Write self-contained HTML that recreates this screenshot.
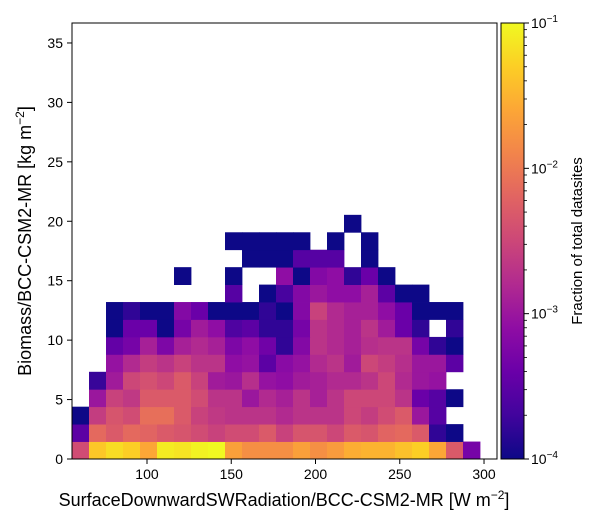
<!DOCTYPE html>
<html><head><meta charset="utf-8"><style>
body{margin:0;background:#fff;}
svg{display:block;font-family:"Liberation Sans","DejaVu Sans",sans-serif;}
</style></head><body>
<svg id="chart" width="600" height="525" viewBox="0 0 600 525">
<defs>
<linearGradient id="plasma" x1="0" y1="1" x2="0" y2="0">
<stop offset="0" stop-color="#0d0887"/><stop offset="0.1" stop-color="#41049d"/><stop offset="0.2" stop-color="#6a00a8"/><stop offset="0.3" stop-color="#8f0da4"/><stop offset="0.4" stop-color="#b12a90"/><stop offset="0.5" stop-color="#cc4778"/><stop offset="0.6" stop-color="#e16462"/><stop offset="0.7" stop-color="#f2844b"/><stop offset="0.8" stop-color="#fca636"/><stop offset="0.9" stop-color="#fcce25"/><stop offset="1" stop-color="#f0f921"/>
</linearGradient>
</defs>
<g id="cells"></g>
<rect x="72" y="23" width="425" height="436" fill="none" stroke="#000" stroke-width="1"/>
<g id="xticks"></g>
<g id="yticks"></g>
<text x="284" y="506" text-anchor="middle" font-size="18">SurfaceDownwardSWRadiation/BCC-CSM2-MR [W m<tspan dy="-7" font-size="12">−2</tspan><tspan dy="7">]</tspan></text>
<text transform="translate(31,241) rotate(-90)" text-anchor="middle" font-size="18">Biomass/BCC-CSM2-MR [kg m<tspan dy="-7" font-size="12">−2</tspan><tspan dy="7">]</tspan></text>
<rect x="501" y="23" width="23" height="436" fill="url(#plasma)" stroke="#000" stroke-width="1"/>
<g id="cbticks"></g>
<text transform="translate(582,241) rotate(-90)" text-anchor="middle" font-size="15">Fraction of total datasites</text>
</svg>
<script>
// log10(fraction) per bin; null = empty. rows from bottom (row0) upward, 25 columns each
const N = null;
const row0 = [-2.45,-1.35,-1.2,-1.3,-1.6,-1.1,-1.15,-1.05,-1.0,-1.65,-1.8,-1.8,-1.8,-1.65,-1.8,-1.7,-1.55,-1.5,-1.5,-1.4,-1.3,-1.6,-2.3,-3.3,N];
const row1 = [-3.5,-2.15,-2.3,-2.15,-2.2,-2.3,-2.35,-2.45,-2.55,-2.45,-2.45,-2.3,-2.55,-2.35,-2.35,-2.5,-2.3,-2.35,-2.2,-2.15,-2.3,-3.8,-4,N,N];
const row2 = [-4,-2.6,-2.35,-2.45,-2.1,-2.1,-2.3,-2.55,-2.65,-2.7,-2.7,-2.7,-2.8,-2.7,-2.7,-2.7,-2.5,-2.6,-2.45,-2.3,-3.0,-3.55,N,N,N];
const row3 = [N,-3.0,-2.55,-2.65,-2.3,-2.3,-2.3,-2.45,-2.7,-2.7,-3.0,-2.8,-2.9,-2.7,-2.9,-2.7,-2.5,-2.5,-2.5,-2.7,-3.4,-3.55,-4,N,N];
const row4 = [N,-3.75,-2.95,-2.5,-2.4,-2.5,-2.3,-2.55,-2.95,-3.0,-2.75,-3.05,-3.1,-2.95,-2.9,-2.8,-2.8,-2.7,-2.5,-2.8,-3.0,-3.05,N,N,N];
const row5 = [N,N,-3.05,-2.8,-2.6,-2.7,-2.55,-2.7,-2.7,-3.1,-3.05,-3.5,-3.15,-3.05,-2.8,-2.7,-2.95,-2.5,-2.6,-2.75,-3.0,-3.0,-3.5,N,N];
const row6 = [N,N,-3.45,-3.3,-2.9,-3.25,-2.9,-2.8,-2.9,-3.25,-3.1,-3.35,-3.8,-3.2,-2.7,-2.8,-2.9,-2.75,-2.7,-2.7,-3.3,-3.8,-4,N,N];
const row7 = [N,N,-4,-3.4,-3.4,-4,-3.3,-2.95,-3.1,-3.6,-3.5,-3.8,-3.8,-3.3,-2.7,-2.8,-2.9,-2.7,-2.95,-3.4,-3.8,N,-3.8,N,N];
const row8 = [N,N,-4,-3.8,-4,-4,-3.2,-3.4,-4,-4,-4,-3.8,-4,-3.2,-2.55,-2.8,-2.9,-2.9,-3.1,-3.4,-4,-4,-4,N,N];
const row9 = [N,N,N,N,N,N,N,N,N,-3.55,N,-4,-3.65,-3.2,-3.0,-3.1,-3.1,-2.9,-3.5,-4,-4,N,N,N,N];
const row10 = [N,N,N,N,N,N,-4,N,N,-4,N,N,-3.1,-4,-3.2,-3.1,-3.8,-3.4,-4,N,N,N,N,N,N];
const row11 = [N,N,N,N,N,N,N,N,N,N,-4,-4,-4,-3.55,-3.55,-3.55,N,-4,N,N,N,N,N,N,N];
const row12 = [N,N,N,N,N,N,N,N,N,-4,-4,-4,-4,-4,N,-4,N,-4,N,N,N,N,N,N,N];
const row13 = [N,N,N,N,N,N,N,N,N,N,N,N,N,N,N,N,-4,N,N,N,N,N,N,N,N];
const rows = [row0,row1,row2,row3,row4,row5,row6,row7,row8,row9,row10,row11,row12,row13];
const xTicks = [100,150,200,250,300];
const yTicks = [0,5,10,15,20,25,30,35];
const cbTicks = [-4,-3,-2,-1];
const xMin = 55.5, xMax = 307.7, yMin = 0, yMax = 36.68, nBins = 25;

const PX0=72, PX1=497, PY0=459, PY1=23;
const xs = v => PX0 + (v - xMin) / (xMax - xMin) * (PX1 - PX0);
const ys = v => PY0 - (v - yMin) / (yMax - yMin) * (PY0 - PY1);
const cs = v => PY0 - (v + 4) / 3 * (PY0 - PY1);
const stops = ["#0d0887","#41049d","#6a00a8","#8f0da4","#b12a90","#cc4778","#e16462","#f2844b","#fca636","#fcce25","#f0f921"];
function hex(h){return [1,3,5].map(i=>parseInt(h.substr(i,2),16));}
function plasma(t){t=Math.max(0,Math.min(1,t));const p=t*10,i=Math.min(9,Math.floor(p)),f=p-i;const a=hex(stops[i]),b=hex(stops[i+1]);return "rgb("+a.map((v,k)=>Math.round(v+(b[k]-v)*f)).join(",")+")";}
const NS="http://www.w3.org/2000/svg";
function mk(tag, attrs, parent){const e=document.createElementNS(NS,tag);for(const k in attrs)e.setAttribute(k,attrs[k]);parent.appendChild(e);return e;}
const cells=document.getElementById("cells");
const bw=(xMax-xMin)/nBins, bh=(yMax-yMin)/nBins;
rows.forEach((row,r)=>{row.forEach((v,c)=>{
  if(v===null)return;
  const x0=xs(xMin+c*bw), x1=xs(xMin+(c+1)*bw), y0=ys(yMin+r*bh), y1=ys(yMin+(r+1)*bh);
  const el=mk("rect",{x:x0,y:y1,width:x1-x0+0.4,height:y0-y1+0.4,fill:plasma((v+4)/3)},cells);
  
  
});});
const xg=document.getElementById("xticks");
xTicks.forEach(t=>{const x=xs(t);
  const l=mk("line",{x1:x,x2:x,y1:459,y2:464,stroke:"#000"},xg);
  
  
  const tx=mk("text",{x:x,y:479,"text-anchor":"middle","font-size":"14"},xg);tx.textContent=t;
  
  
});
const yg=document.getElementById("yticks");
yTicks.forEach(t=>{const y=ys(t);
  const l=mk("line",{x1:67,x2:72,y1:y,y2:y,stroke:"#000"},yg);
  
  
  const tx=mk("text",{x:63,y:y+5,"text-anchor":"end","font-size":"14"},yg);tx.textContent=t;
  
  
});
const cg=document.getElementById("cbticks");
cbTicks.forEach(t=>{const y=cs(t);
  const l=mk("line",{x1:524,x2:529,y1:y,y2:y,stroke:"#000"},cg);
  
  
  const tx=mk("text",{x:531,y:y+5,"font-size":"14"},cg);
  
  
  tx.appendChild(document.createTextNode("10"));
  const s=mk("tspan",{dy:"-6","font-size":"10"},tx);s.textContent="−"+Math.abs(t);
});
for(let k=-4;k<-1+1e-9;k++){for(let m=2;m<10;m++){const v=k+Math.log10(m);if(v>-1)break;const y=cs(v);
  const l=mk("line",{x1:524,x2:527,y1:y,y2:y,stroke:"#000","stroke-width":"0.8"},cg);
  
  
}}
</script>
</body></html>
